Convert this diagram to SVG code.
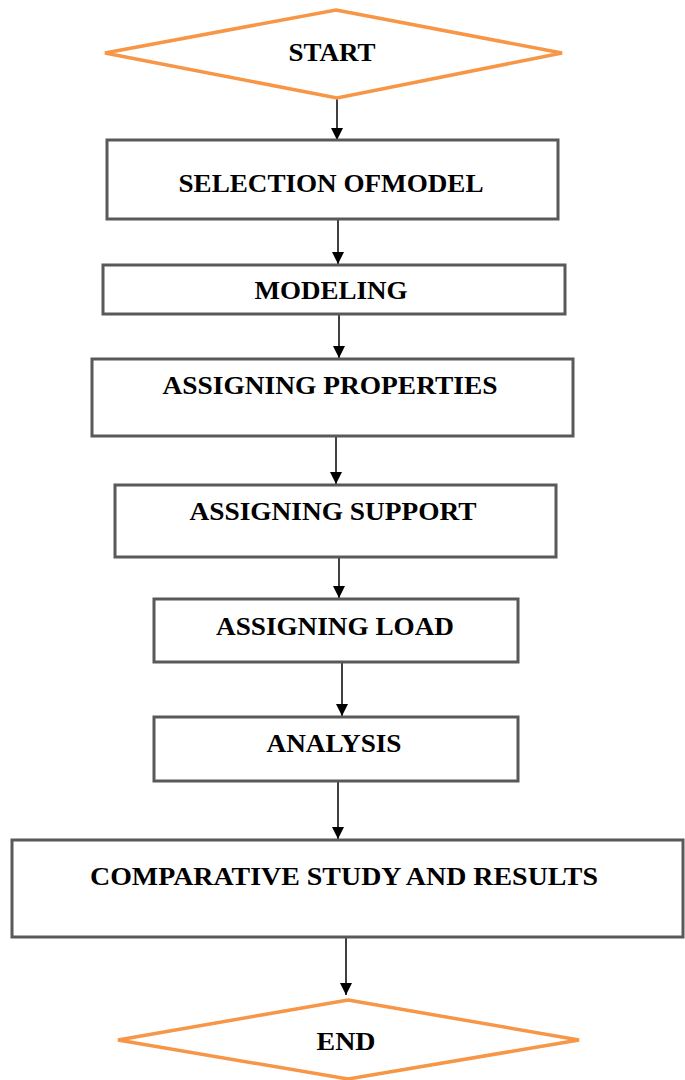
<svg xmlns="http://www.w3.org/2000/svg" width="685" height="1080" viewBox="0 0 685 1080">
<style>
.box{fill:#fff;stroke:#595959;stroke-width:3}
.dia{fill:#fff;stroke:#F79646;stroke-width:3.5;stroke-linejoin:miter}
.lbl{font-family:"Liberation Serif","Times New Roman",serif;font-size:26px;font-weight:bold;fill:#000;text-anchor:middle}
.sm{font-size:25px}
.con{stroke:#000;stroke-width:1.5;fill:none;marker-end:url(#ah)}
</style>
<defs>
<marker id="ah" markerUnits="userSpaceOnUse" markerWidth="12" markerHeight="12" refX="12" refY="6" orient="auto">
<path d="M0,0 L12,6 L0,12 Z" fill="#000"/>
</marker>
</defs>
<rect width="685" height="1080" fill="#fff"/>
<g id="connectors">
<line class="con" x1="337" y1="99" x2="337" y2="140"/>
<line class="con" x1="338" y1="220" x2="338" y2="264"/>
<line class="con" x1="339" y1="315" x2="339" y2="358"/>
<line class="con" x1="336" y1="437" x2="336" y2="484"/>
<line class="con" x1="339" y1="558" x2="339" y2="598"/>
<line class="con" x1="342" y1="663" x2="342" y2="716"/>
<line class="con" x1="338" y1="782" x2="338" y2="839"/>
<line class="con" x1="346" y1="938" x2="346" y2="995"/>
</g>
<g id="start">
<polygon class="dia" points="336,10 562,53 337,98 105,53"/>
<text class="lbl" x="332" y="61" textLength="87" lengthAdjust="spacingAndGlyphs">START</text>
</g>
<g id="selection">
<rect class="box" x="107" y="140" width="451" height="79"/>
<text class="lbl" x="331" y="192" textLength="305" lengthAdjust="spacingAndGlyphs">SELECTION OFMODEL</text>
</g>
<g id="modeling">
<rect class="box" x="103" y="265" width="462" height="49"/>
<text class="lbl" x="331" y="299" textLength="153" lengthAdjust="spacingAndGlyphs">MODELING</text>
</g>
<g id="properties">
<rect class="box" x="92" y="359" width="481" height="77"/>
<text class="lbl" x="330" y="394" textLength="335" lengthAdjust="spacingAndGlyphs">ASSIGNING PROPERTIES</text>
</g>
<g id="support">
<rect class="box" x="115" y="485" width="441" height="72"/>
<text class="lbl" x="333" y="520" textLength="287" lengthAdjust="spacingAndGlyphs">ASSIGNING SUPPORT</text>
</g>
<g id="load">
<rect class="box" x="154" y="599" width="364" height="63"/>
<text class="lbl" x="335" y="635" textLength="238" lengthAdjust="spacingAndGlyphs">ASSIGNING LOAD</text>
</g>
<g id="analysis">
<rect class="box" x="154" y="717" width="364" height="64"/>
<text class="lbl" x="334" y="752" textLength="135" lengthAdjust="spacingAndGlyphs">ANALYSIS</text>
</g>
<g id="comparative">
<rect class="box" x="12" y="840" width="671" height="97"/>
<text class="lbl sm" x="344" y="885" textLength="508" lengthAdjust="spacingAndGlyphs">COMPARATIVE STUDY AND RESULTS</text>
</g>
<g id="end">
<polygon class="dia" points="348,1000 579,1040 348,1079 118,1040"/>
<text class="lbl" x="346" y="1050" textLength="59" lengthAdjust="spacingAndGlyphs">END</text>
</g>
</svg>
